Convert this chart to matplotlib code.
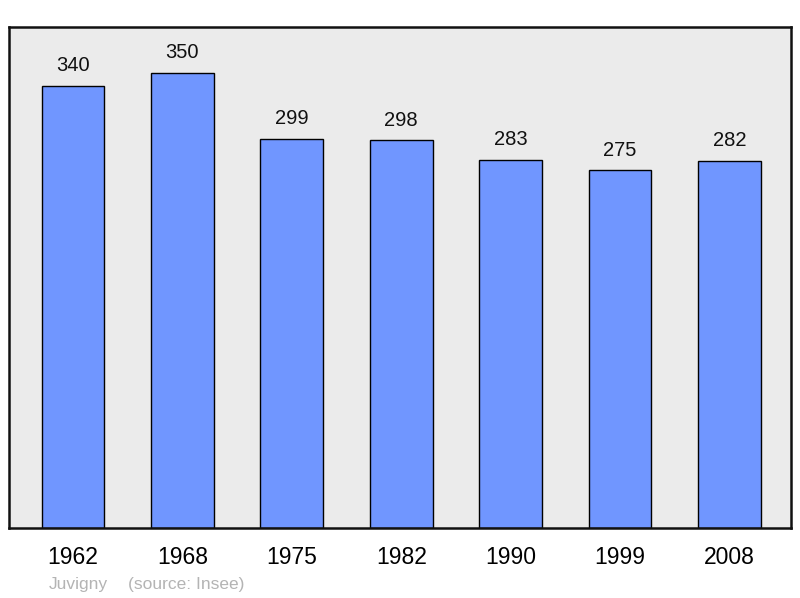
import matplotlib.pyplot as plt

years = ["1962", "1968", "1975", "1982", "1990", "1999", "2008"]
population = [340, 350, 299, 298, 283, 275, 282]
town = "Juvigny"
source = "(source: Insee)"

plt.rcParams["font.family"] = ["Liberation Sans", "DejaVu Sans"]

fig = plt.figure(figsize=(8, 5.98), dpi=100)
ax = fig.add_axes([9 / 800, 70 / 598, 782 / 800, 501 / 598])
ax.set_facecolor("#ebebeb")

x = range(len(years))
bars = ax.bar(x, population, width=0.575, color="#7096ff",
              edgecolor="black", linewidth=1.0, zorder=2)

for xi, val in zip(x, population):
    ax.annotate(str(val), (xi, val), xytext=(0, 14.5), textcoords="offset points",
                ha="center", va="center", fontsize=14.5, color="#111111")

ax.set_xlim(-0.585, 6.563)
ax.set_ylim(0, 385)
ax.set_xticks(list(x))
ax.set_xticklabels(years, fontsize=16.5)
ax.tick_params(axis="x", length=0, pad=13)
ax.set_yticks([])
for s in ax.spines.values():
    s.set_linewidth(1.8)
    s.set_color("#111111")

fig.text(49 / 800, 1 - 584 / 598, town, fontsize=12.5, color="#b4b4b4",
         ha="left", va="center")
fig.text(128 / 800, 1 - 584 / 598, source, fontsize=12.5, color="#b4b4b4",
         ha="left", va="center")

fig.savefig("out.png", dpi=100)
